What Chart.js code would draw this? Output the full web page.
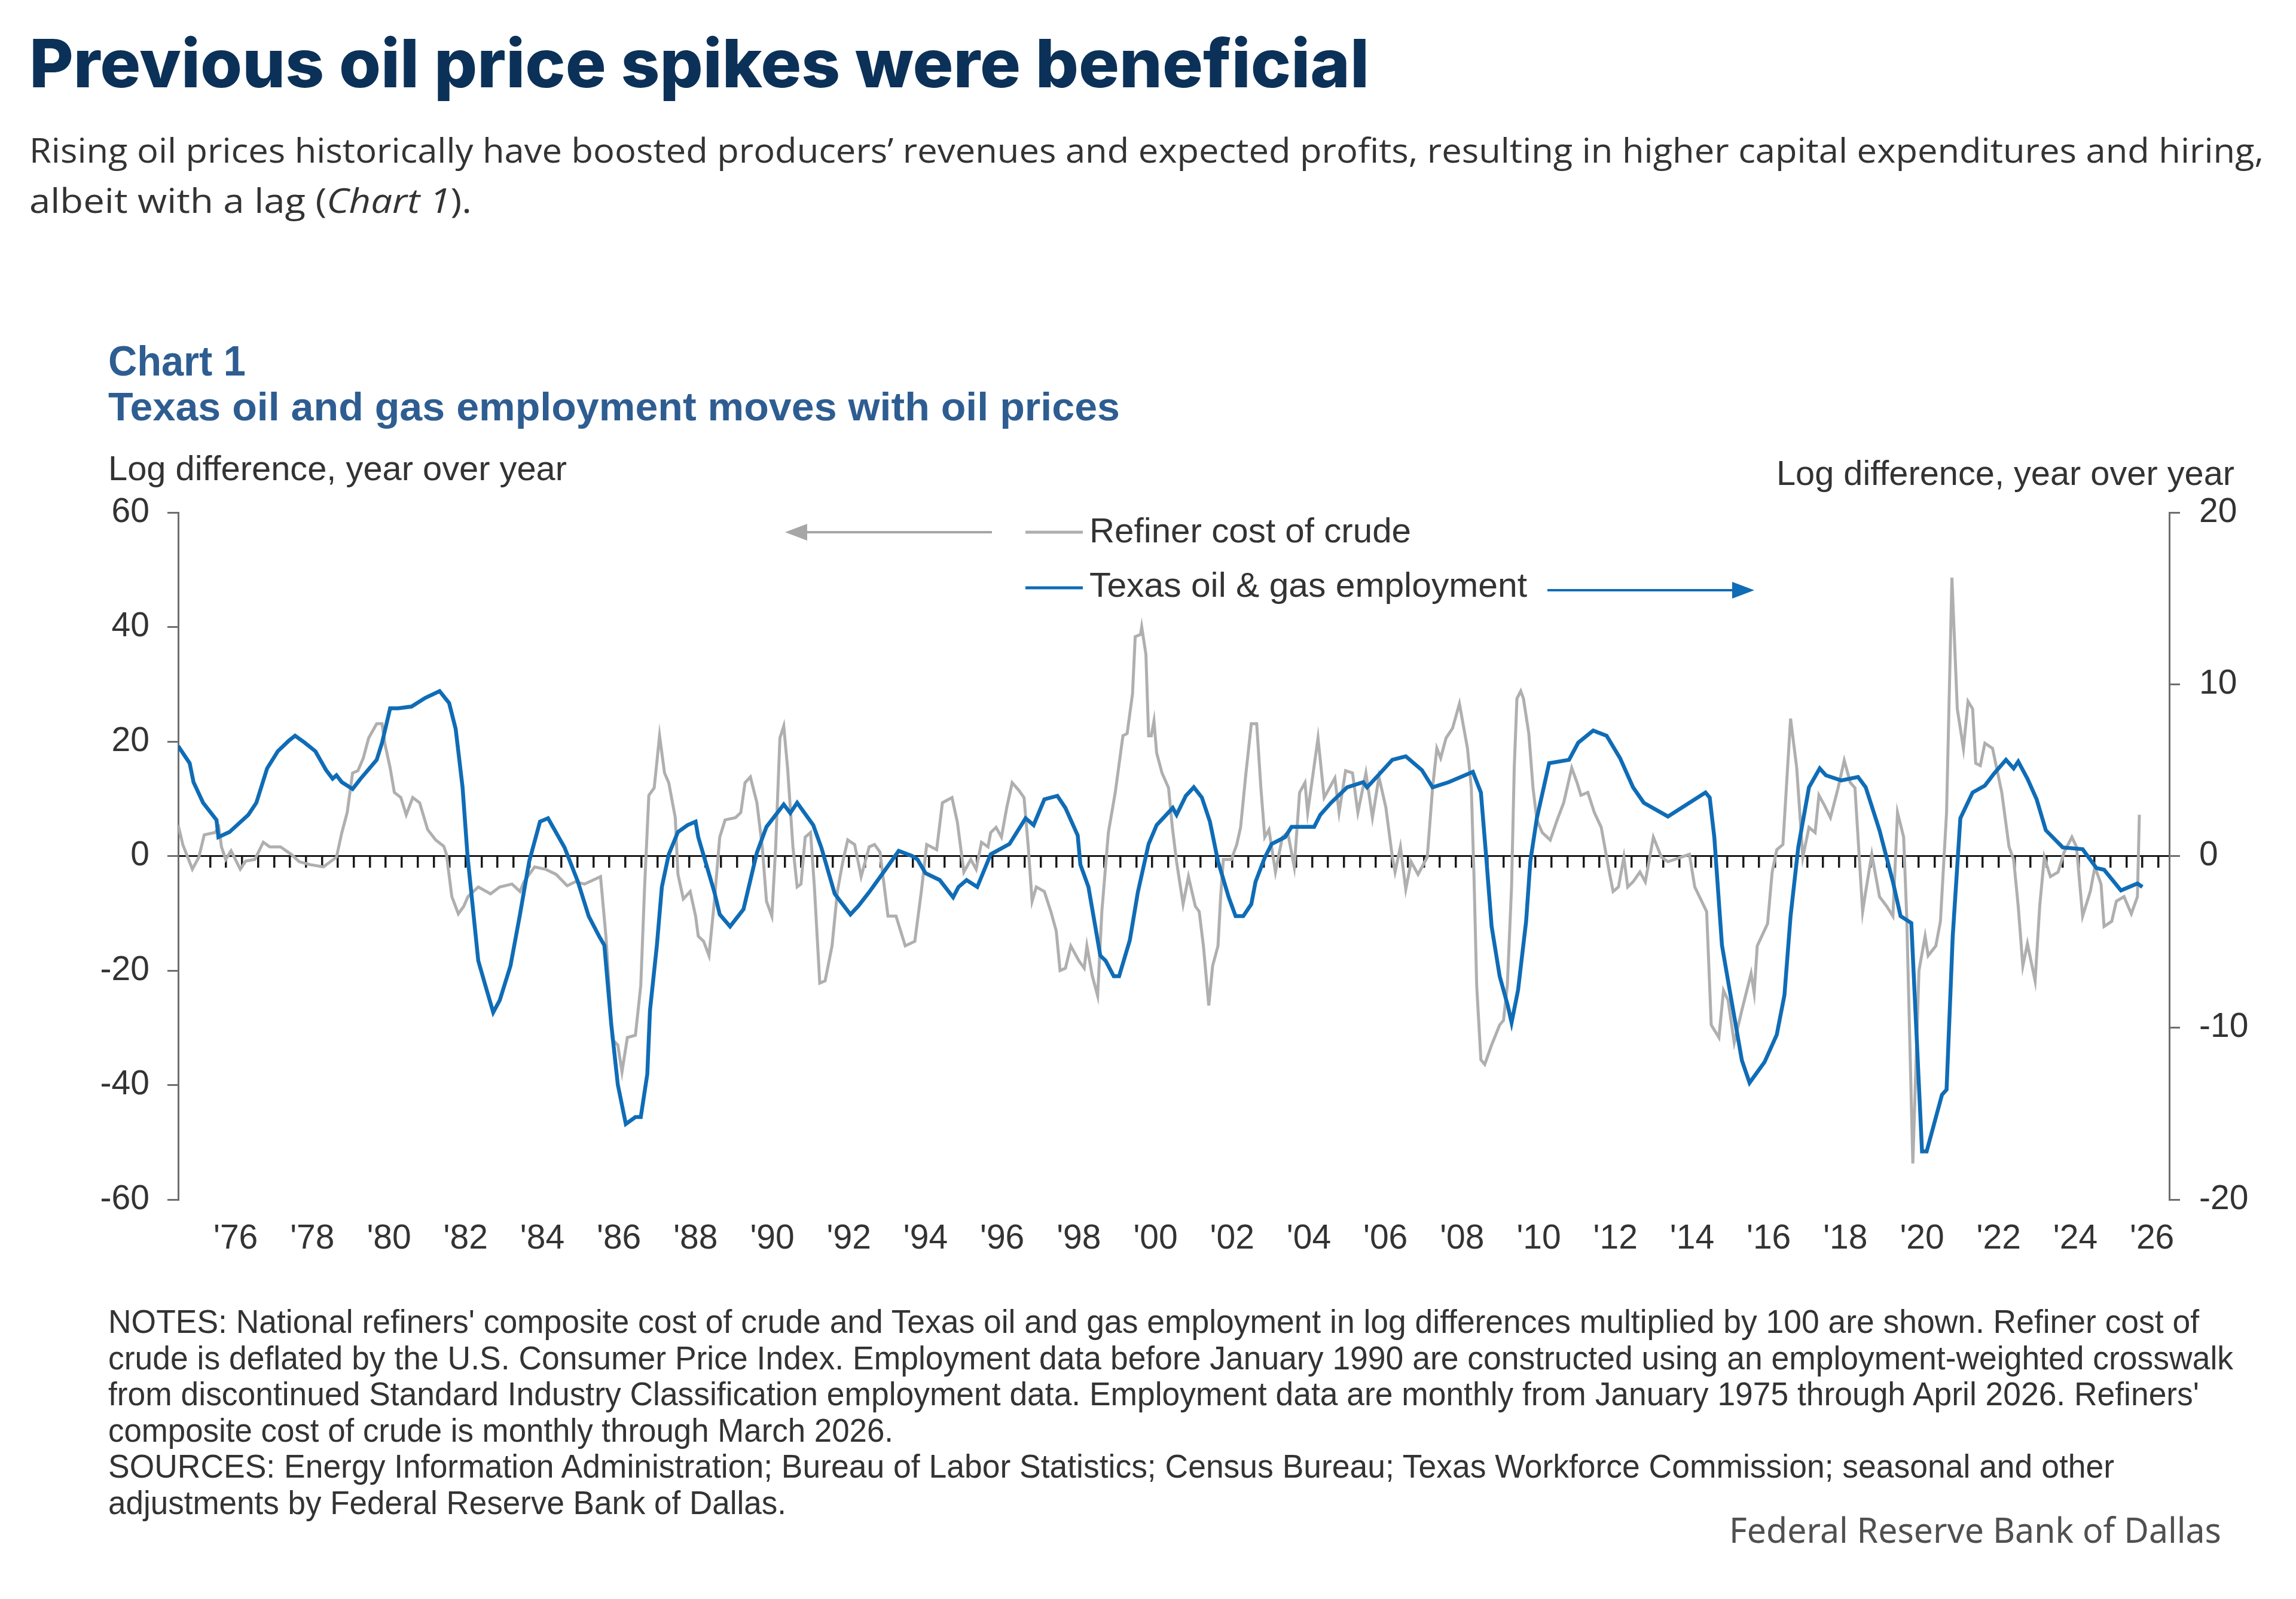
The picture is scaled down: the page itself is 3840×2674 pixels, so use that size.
<!DOCTYPE html>
<html>
<head>
<meta charset="utf-8">
<title>Previous oil price spikes were beneficial</title>
<script src="https://cdn.jsdelivr.net/npm/chart.js@4.4.1/dist/chart.umd.min.js"></script>
<style>
  html, body { margin: 0; padding: 0; background: #fff; }
  #page { position: relative; width: 3840px; height: 2674px; overflow: hidden; background: #fff; }
  .txt { position: absolute; white-space: nowrap; line-height: 1; transform-origin: 0 0; }
  .title { font-family: Inter, "Noto Sans", sans-serif; font-weight: 800; font-size: 112px; color: #0b3158; }
  .lead { font-family: "Open Sans", sans-serif; font-size: 56px; color: #333; }
  .chart-head { font-family: "Liberation Sans", Arial, sans-serif; font-weight: bold; color: #2e5d91; }
  .axis-title, .legend, .note { font-family: "Liberation Sans", Arial, sans-serif; color: #333; }
  .axis-title, .legend { font-size: 58px; }
  .note { font-size: 55px; }
  .credit { font-family: "Noto Sans", sans-serif; font-size: 58px; color: #505050; }
  #chart { position: absolute; left: 0; top: 780px; }
  #overlay { position: absolute; left: 0; top: 0; }
</style>
</head>
<body>
<div id="page">
  <div class="txt title" style="left:49px; top:49px;" data-w="2241">Previous oil price spikes were beneficial</div>
  <div class="txt lead" style="left:49px; top:222px;" data-w="3737">Rising oil prices historically have boosted producers’ revenues and expected profits, resulting in higher capital expenditures and hiring,</div>
  <div class="txt lead" style="left:49px; top:306px;" data-w="740">albeit with a lag (<i>Chart 1</i>).</div>

  <div class="txt chart-head" style="left:181px; top:569px; font-size:70px;" data-w="230">Chart 1</div>
  <div class="txt chart-head" style="left:181px; top:646px; font-size:67px;" data-w="1692">Texas oil and gas employment moves with oil prices</div>

  <div class="txt axis-title" style="left:181px; top:754px;" data-w="767">Log difference, year over year</div>
  <div class="txt axis-title" style="left:2971px; top:762px;" data-w="766">Log difference, year over year</div>

  <canvas id="chart" width="3840" height="1346"></canvas>

  <svg id="overlay" width="3840" height="2674">
    <!-- gray arrow pointing to the left axis -->
    <line x1="1659" y1="890" x2="1345" y2="890" stroke="#a6a6a6" stroke-width="4"/>
    <path d="M1313,890 L1350,876 L1350,904 z" fill="#a6a6a6"/>
    <!-- blue arrow pointing to the right axis -->
    <line x1="2588" y1="987" x2="2902" y2="987" stroke="#0f6cb6" stroke-width="4"/>
    <path d="M2934,987 L2897,973 L2897,1001 z" fill="#0f6cb6"/>
    <!-- legend samples -->
    <line x1="1715" y1="890" x2="1811" y2="890" stroke="#afafaf" stroke-width="5"/>
    <line x1="1715" y1="983" x2="1811" y2="983" stroke="#0f6cb6" stroke-width="5"/>
  </svg>

  <div class="txt legend" style="left:1822px; top:858px;" data-w="538">Refiner cost of crude</div>
  <div class="txt legend" style="left:1822px; top:949px;" data-w="732">Texas oil &amp; gas employment</div>

  <div class="txt note" style="left:181px; top:2183px;" data-w="3497">NOTES: National refiners' composite cost of crude and Texas oil and gas employment in log differences multiplied by 100 are shown. Refiner cost of</div>
  <div class="txt note" style="left:181px; top:2244px;" data-w="3554">crude is deflated by the U.S. Consumer Price Index. Employment data before January 1990 are constructed using an employment-weighted crosswalk</div>
  <div class="txt note" style="left:181px; top:2304px;" data-w="3497">from discontinued Standard Industry Classification employment data. Employment data are monthly from January 1975 through April 2026. Refiners'</div>
  <div class="txt note" style="left:181px; top:2365px;" data-w="1313">composite cost of crude is monthly through March 2026.</div>
  <div class="txt note" style="left:181px; top:2425px;" data-w="3355">SOURCES: Energy Information Administration; Bureau of Labor Statistics; Census Bureau; Texas Workforce Commission; seasonal and other</div>
  <div class="txt note" style="left:181px; top:2486px;" data-w="1134">adjustments by Federal Reserve Bank of Dallas.</div>

  <div class="txt credit" style="left:2892px; top:2529px;" data-w="823">Federal Reserve Bank of Dallas</div>
</div>

<script>
// tick labels on the bottom axis (one every two years)
const tickYears = [1976, 1978, 1980, 1982, 1984, 1986, 1988, 1990, 1992, 1994, 1996, 1998, 2000,
    2002, 2004, 2006, 2008, 2010, 2012, 2014, 2016, 2018, 2020, 2022, 2024, 2026];
const tickLabels = ["'76", "'78", "'80", "'82", "'84", "'86", "'88", "'90", "'92", "'94", "'96", "'98", "'00",
    "'02", "'04", "'06", "'08", "'10", "'12", "'14", "'16", "'18", "'20", "'22", "'24", "'26"];

// Refiner cost of crude, log difference yoy (left axis) - [year, value]
const crudeSeries = [
    [1975.00, 5.4], [1975.12, 2.0], [1975.37, -2.3], [1975.54, -0.2], [1975.68, 3.7], [1975.96, 4.1],
    [1976.06, 5.0], [1976.13, 1.6], [1976.24, -0.6], [1976.38, 0.9], [1976.62, -2.3], [1976.76, -0.9],
    [1977.00, -0.6], [1977.22, 2.4], [1977.39, 1.6], [1977.67, 1.6], [1977.95, 0.3], [1978.16, -1.0],
    [1978.44, -1.5], [1978.79, -1.9], [1979.13, -0.2], [1979.27, 4.1], [1979.41, 7.6], [1979.55, 14.5],
    [1979.69, 14.9], [1979.83, 17.1], [1979.97, 20.6], [1980.18, 23.1], [1980.32, 23.1], [1980.39, 19.7],
    [1980.53, 15.4], [1980.64, 11.1], [1980.81, 10.2], [1980.95, 7.2], [1981.12, 10.2], [1981.30, 9.3],
    [1981.51, 4.6], [1981.72, 2.8], [1981.93, 1.7], [1982.00, 0.3], [1982.14, -7.1], [1982.31, -10.1],
    [1982.45, -8.8], [1982.56, -7.1], [1982.83, -5.4], [1983.15, -6.6], [1983.39, -5.4], [1983.71, -4.9],
    [1983.92, -6.2], [1984.02, -4.5], [1984.30, -1.9], [1984.58, -2.3], [1984.86, -3.2],
    [1985.15, -5.2], [1985.36, -4.5], [1985.60, -4.9], [1986.02, -3.6], [1986.16, -14.0], [1986.33, -32.1],
    [1986.47, -33.0], [1986.58, -37.7], [1986.72, -31.7], [1986.93, -31.3], [1987.07, -22.6], [1987.17, -5.4],
    [1987.28, 10.6], [1987.42, 11.9], [1987.56, 21.0], [1987.69, 14.5], [1987.80, 12.8], [1987.97, 6.7],
    [1988.04, -3.2], [1988.18, -7.5], [1988.36, -6.2], [1988.50, -10.5], [1988.57, -14.0], [1988.71, -14.9],
    [1988.85, -17.4], [1988.99, -7.9], [1989.13, 3.3], [1989.27, 6.3], [1989.54, 6.7], [1989.68, 7.6],
    [1989.79, 12.8], [1989.93, 13.8], [1990.10, 9.3], [1990.24, 1.6], [1990.35, -7.9], [1990.49, -10.5],
    [1990.59, 1.6], [1990.70, 20.6], [1990.80, 22.7], [1990.90, 15.4], [1991.04, 1.6], [1991.15, -5.4],
    [1991.25, -4.9], [1991.36, 3.3], [1991.50, 4.1], [1991.60, -5.4], [1991.74, -22.2], [1991.88, -21.8],
    [1992.06, -15.7], [1992.20, -6.2], [1992.34, -1.0], [1992.47, 2.8], [1992.65, 2.0], [1992.82, -3.6],
    [1993.03, 1.6], [1993.17, 2.0], [1993.31, 0.7], [1993.52, -10.5], [1993.73, -10.5], [1993.97, -15.7],
    [1994.22, -14.9], [1994.39, -6.2], [1994.53, 2.0], [1994.79, 1.1], [1994.94, 9.3], [1995.19, 10.2],
    [1995.33, 5.9], [1995.50, -2.8], [1995.68, -0.6], [1995.82, -2.3], [1995.96, 2.4], [1996.13, 1.6],
    [1996.20, 4.1], [1996.34, 5.0], [1996.48, 3.3], [1996.62, 8.5], [1996.76, 12.8], [1996.93, 11.5],
    [1997.07, 10.2], [1997.18, 1.6], [1997.28, -7.9], [1997.39, -5.4], [1997.60, -6.2], [1997.77, -9.7],
    [1997.91, -13.1], [1998.01, -20.0], [1998.15, -19.6], [1998.29, -15.7], [1998.50, -18.3], [1998.64, -19.6],
    [1998.71, -15.7], [1998.85, -20.9], [1998.99, -24.4], [1999.10, -9.7], [1999.27, 4.1], [1999.45, 11.1],
    [1999.65, 21.0], [1999.76, 21.4], [1999.90, 28.3], [1999.97, 38.3], [2000.11, 38.7], [2000.14, 40.0],
    [2000.25, 35.2], [2000.32, 21.0], [2000.39, 21.0], [2000.46, 23.6], [2000.53, 18.0], [2000.67, 14.5],
    [2000.84, 11.9], [2000.94, 5.0], [2001.05, -1.0], [2001.22, -8.4], [2001.36, -3.6], [2001.54, -8.8],
    [2001.64, -9.7], [2001.75, -15.7], [2001.89, -26.1], [2001.99, -19.2], [2002.13, -15.7], [2002.20, -7.1],
    [2002.27, -0.6], [2002.48, -0.6], [2002.62, 2.0], [2002.72, 5.0], [2002.86, 14.5], [2003.00, 23.1],
    [2003.14, 23.1], [2003.25, 11.9], [2003.35, 3.3], [2003.46, 4.6], [2003.63, -2.8], [2003.81, 3.3],
    [2003.95, 4.1], [2004.12, -1.9], [2004.26, 11.1], [2004.40, 12.8], [2004.47, 7.6], [2004.74, 20.6],
    [2004.90, 10.2], [2005.18, 13.6], [2005.29, 7.6], [2005.46, 14.9], [2005.64, 14.5], [2005.78, 7.6],
    [2005.99, 14.5], [2006.16, 6.7], [2006.33, 13.8], [2006.51, 8.5], [2006.68, -0.2], [2006.75, -2.8],
    [2006.89, 1.6], [2007.03, -5.8], [2007.17, -1.0], [2007.35, -3.2], [2007.59, -0.2], [2007.73, 11.9],
    [2007.84, 18.8], [2007.94, 17.1], [2008.08, 20.6], [2008.25, 22.3], [2008.43, 26.6], [2008.64, 18.8],
    [2008.74, 11.9], [2008.81, -3.6], [2008.88, -22.6], [2008.99, -35.6], [2009.09, -36.4], [2009.27, -33.0],
    [2009.48, -29.5], [2009.58, -28.7], [2009.68, -22.6], [2009.79, -5.4], [2009.86, 15.4], [2009.93, 27.5],
    [2010.03, 28.8], [2010.10, 27.5], [2010.24, 21.4], [2010.35, 11.9], [2010.45, 6.3], [2010.59, 4.1],
    [2010.80, 2.8], [2010.98, 6.3], [2011.15, 9.3], [2011.36, 15.4], [2011.50, 12.8], [2011.60, 10.6],
    [2011.78, 11.1], [2011.95, 7.6], [2012.13, 5.0], [2012.34, -2.8], [2012.44, -6.2], [2012.58, -5.4],
    [2012.72, -0.2], [2012.82, -5.4], [2012.96, -4.5], [2013.14, -2.8], [2013.28, -4.5], [2013.49, 3.3],
    [2013.70, -0.2], [2013.87, -1.0], [2014.05, -0.6], [2014.43, 0.3], [2014.57, -5.4], [2014.88, -9.7],
    [2015.00, -29.5], [2015.20, -31.7], [2015.32, -23.5], [2015.44, -25.2], [2015.60, -32.6], [2015.80, -26.9],
    [2016.04, -20.5], [2016.12, -23.9], [2016.20, -15.7], [2016.47, -11.8], [2016.59, -2.8], [2016.71, 1.1],
    [2016.87, 2.0], [2017.07, 24.0], [2017.23, 15.4], [2017.39, -0.2], [2017.55, 5.0], [2017.71, 4.1],
    [2017.81, 10.6], [2017.95, 8.9], [2018.11, 6.7], [2018.31, 11.9], [2018.47, 16.7], [2018.63, 12.8],
    [2018.75, 11.9], [2018.95, -9.7], [2019.03, -6.2], [2019.19, 0.3], [2019.39, -7.1], [2019.58, -8.8],
    [2019.74, -10.5], [2019.86, 7.6], [2020.02, 3.3], [2020.10, -10.5], [2020.26, -53.7], [2020.42, -20.0],
    [2020.58, -14.0], [2020.66, -17.4], [2020.86, -15.7], [2020.98, -11.4], [2021.14, 7.6], [2021.28, 48.6],
    [2021.42, 25.7], [2021.58, 18.8], [2021.70, 27.0], [2021.82, 25.7], [2021.90, 16.2], [2022.02, 15.8],
    [2022.14, 19.7], [2022.34, 18.8], [2022.58, 11.1], [2022.77, 1.6], [2022.89, -0.6], [2023.01, -8.8],
    [2023.13, -19.2], [2023.25, -15.3], [2023.45, -21.8], [2023.57, -8.8], [2023.69, -0.2], [2023.85, -3.6],
    [2024.05, -2.8], [2024.21, 0.7], [2024.41, 3.3], [2024.53, 1.6], [2024.69, -10.5], [2024.89, -6.2],
    [2025.01, -1.9], [2025.17, -4.9], [2025.25, -12.3], [2025.45, -11.4], [2025.57, -7.9], [2025.77, -7.1],
    [2025.96, -10.1], [2026.12, -7.1], [2026.17, 7.2]
];

// Texas oil & gas employment, log difference yoy (right axis) - [year, value]
const employmentSeries = [
    [1975.00, 6.4], [1975.30, 5.4], [1975.40, 4.3], [1975.65, 3.1], [1976.00, 2.1], [1976.05, 1.1],
    [1976.34, 1.4], [1976.83, 2.4], [1977.04, 3.1], [1977.32, 5.1], [1977.60, 6.1], [1977.88, 6.7],
    [1978.05, 7.0], [1978.30, 6.6], [1978.58, 6.1], [1978.86, 5.0], [1979.03, 4.5], [1979.13, 4.7],
    [1979.27, 4.3], [1979.55, 3.9], [1979.76, 4.5], [1980.18, 5.6], [1980.32, 6.6], [1980.53, 8.6],
    [1980.74, 8.6], [1981.09, 8.7], [1981.44, 9.2], [1981.82, 9.6], [1982.07, 8.9], [1982.24, 7.4],
    [1982.42, 4.0], [1982.55, 0.0], [1982.83, -6.1], [1983.01, -7.5], [1983.22, -9.1], [1983.39, -8.4],
    [1983.67, -6.4], [1983.91, -3.5], [1984.16, -0.3], [1984.44, 2.0], [1984.65, 2.2], [1985.08, 0.5],
    [1985.43, -1.5], [1985.71, -3.5], [1985.99, -4.7], [1986.12, -5.2], [1986.30, -9.8], [1986.47, -13.3],
    [1986.68, -15.6], [1986.93, -15.2], [1987.07, -15.2], [1987.24, -12.7], [1987.31, -9.0], [1987.49, -5.2],
    [1987.62, -1.8], [1987.80, 0.1], [1988.04, 1.4], [1988.29, 1.8], [1988.50, 2.0], [1988.57, 1.1],
    [1988.99, -2.1], [1989.13, -3.4], [1989.40, -4.1], [1989.75, -3.1], [1990.10, 0.2], [1990.35, 1.7],
    [1990.80, 3.0], [1990.97, 2.5], [1991.15, 3.1], [1991.57, 1.8], [1991.78, 0.5], [1992.13, -2.2],
    [1992.54, -3.4], [1992.75, -2.9], [1993.03, -2.1], [1993.45, -0.8], [1993.80, 0.3], [1994.15, 0.0],
    [1994.29, -0.2], [1994.50, -1.0], [1994.87, -1.4], [1995.22, -2.4], [1995.36, -1.8], [1995.57, -1.4],
    [1995.85, -1.8], [1996.20, 0.1], [1996.69, 0.7], [1997.11, 2.2], [1997.32, 1.8], [1997.60, 3.3],
    [1997.94, 3.5], [1998.15, 2.8], [1998.47, 1.2], [1998.54, -0.5], [1998.75, -1.8], [1999.06, -5.8],
    [1999.20, -6.1], [1999.41, -7.0], [1999.55, -7.0], [1999.83, -4.9], [2000.04, -2.1], [2000.32, 0.7],
    [2000.53, 1.8], [2000.95, 2.8], [2001.05, 2.4], [2001.29, 3.5], [2001.50, 4.0], [2001.71, 3.4],
    [2001.92, 2.0], [2002.13, -0.3], [2002.41, -2.4], [2002.59, -3.5], [2002.79, -3.5], [2003.00, -2.8],
    [2003.11, -1.5], [2003.35, -0.1], [2003.53, 0.7], [2003.88, 1.1], [2004.05, 1.7], [2004.64, 1.7],
    [2004.80, 2.4], [2005.08, 3.1], [2005.50, 4.0], [2005.92, 4.3], [2006.02, 4.0], [2006.27, 4.6],
    [2006.68, 5.6], [2007.03, 5.8], [2007.45, 5.0], [2007.73, 4.0], [2008.15, 4.3], [2008.78, 4.9],
    [2008.99, 3.7], [2009.13, -0.1], [2009.27, -4.1], [2009.48, -7.0], [2009.69, -8.7], [2009.79, -9.7],
    [2009.96, -7.8], [2010.17, -3.8], [2010.28, -0.3], [2010.45, 2.2], [2010.77, 5.4], [2011.29, 5.6],
    [2011.53, 6.6], [2011.92, 7.3], [2012.27, 7.0], [2012.62, 5.7], [2012.96, 4.0], [2013.24, 3.1],
    [2013.87, 2.3], [2014.43, 3.1], [2014.85, 3.7], [2014.96, 3.4], [2015.08, 1.1], [2015.28, -5.2],
    [2015.48, -7.8], [2015.80, -11.9], [2016.00, -13.2], [2016.39, -12.0], [2016.71, -10.4], [2016.91, -8.1],
    [2017.07, -3.5], [2017.27, 0.5], [2017.55, 4.0], [2017.83, 5.1], [2017.99, 4.7], [2018.39, 4.4],
    [2018.83, 4.6], [2019.03, 4.0], [2019.39, 1.5], [2019.74, -1.5], [2019.94, -3.5], [2020.22, -3.9],
    [2020.50, -17.2], [2020.62, -17.2], [2021.02, -13.9], [2021.14, -13.6], [2021.30, -4.7], [2021.50, 2.2],
    [2021.82, 3.7], [2022.14, 4.1], [2022.38, 4.8], [2022.69, 5.6], [2022.89, 5.1], [2023.01, 5.5],
    [2023.25, 4.5], [2023.49, 3.3], [2023.73, 1.5], [2024.17, 0.5], [2024.69, 0.4], [2025.05, -0.7],
    [2025.25, -0.8], [2025.69, -2.0], [2026.12, -1.6], [2026.25, -1.8]
];

const axisFont = { family: '"Liberation Sans", Arial, sans-serif', size: 57 };
const textColor = '#333';
const axisGray = '#6e6e6e';
const X_MIN = 1975, X_MAX = 2026.95;

// small marks on the zero line, one every five months
function minorTicks() {
    const ticks = [];
    for (let m = 10; 1975 + m / 12 < X_MAX; m += 5) {
        ticks.push({ value: 1975 + m / 12 });
    }
    return ticks;
}

const toPoints = series => series.map(([x, y]) => ({ x, y }));

new Chart(document.getElementById('chart'), {
    type: 'line',
    data: {
        datasets: [
            {
                label: 'Texas oil & gas employment',
                data: toPoints(employmentSeries),
                yAxisID: 'y2',
                borderColor: '#0f6cb6',
                borderWidth: 6.5,
                pointRadius: 0,
                tension: 0
            },
            {
                label: 'Refiner cost of crude',
                data: toPoints(crudeSeries),
                yAxisID: 'y',
                borderColor: '#afafaf',
                borderWidth: 5,
                pointRadius: 0,
                tension: 0
            }
        ]
    },
    options: {
        responsive: false,
        animation: false,
        layout: { padding: { top: 77, left: 0, right: 0, bottom: 0 } },
        plugins: {
            legend: { display: false },
            tooltip: { enabled: false }
        },
        scales: {
            x: {
                type: 'linear',
                position: 'bottom',
                min: X_MIN,
                max: X_MAX,
                grid: { display: false, drawTicks: false },
                border: { display: false },
                afterBuildTicks: scale => {
                    scale.ticks = tickYears.map(y => ({ value: y + 0.5 }));
                },
                afterFit: scale => { scale.height = 120; },
                ticks: {
                    autoSkip: false,
                    maxRotation: 0,
                    padding: 32,
                    font: axisFont,
                    color: textColor,
                    callback: (value, index) => tickLabels[index]
                }
            },
            x2: {
                type: 'linear',
                axis: 'x',
                position: { y: 0 },
                min: X_MIN,
                max: X_MAX,
                afterBuildTicks: scale => { scale.ticks = minorTicks(); },
                grid: { drawOnChartArea: false, drawTicks: true, tickLength: 18, color: '#1a1a1a', lineWidth: 3.5 },
                border: { display: true, color: '#1a1a1a', width: 3 },
                ticks: { display: false }
            },
            y: {
                position: 'left',
                min: -60,
                max: 60,
                afterFit: scale => { scale.width = 298; },
                ticks: { stepSize: 20, padding: 30, font: axisFont, color: textColor },
                grid: { drawOnChartArea: false, drawTicks: true, tickLength: 18, color: axisGray, lineWidth: 3 },
                border: { display: true, color: axisGray, width: 3 }
            },
            y2: {
                position: 'right',
                min: -20,
                max: 20,
                afterFit: scale => { scale.width = 212; },
                ticks: { stepSize: 10, padding: 32, font: axisFont, color: textColor },
                grid: { drawOnChartArea: false, drawTicks: true, tickLength: 18, color: axisGray, lineWidth: 3 },
                border: { display: true, color: axisGray, width: 3 }
            }
        }
    }
});

// squeeze each text line to the width it has in the original
function fitWidths() {
    document.querySelectorAll('[data-w]').forEach(el => {
        el.style.transform = '';
        const target = parseFloat(el.dataset.w);
        const actual = el.getBoundingClientRect().width;
        if (actual > 0) el.style.transform = `scaleX(${target / actual})`;
    });
}
fitWidths();
document.fonts.ready.then(fitWidths);
</script>
</body>
</html>
